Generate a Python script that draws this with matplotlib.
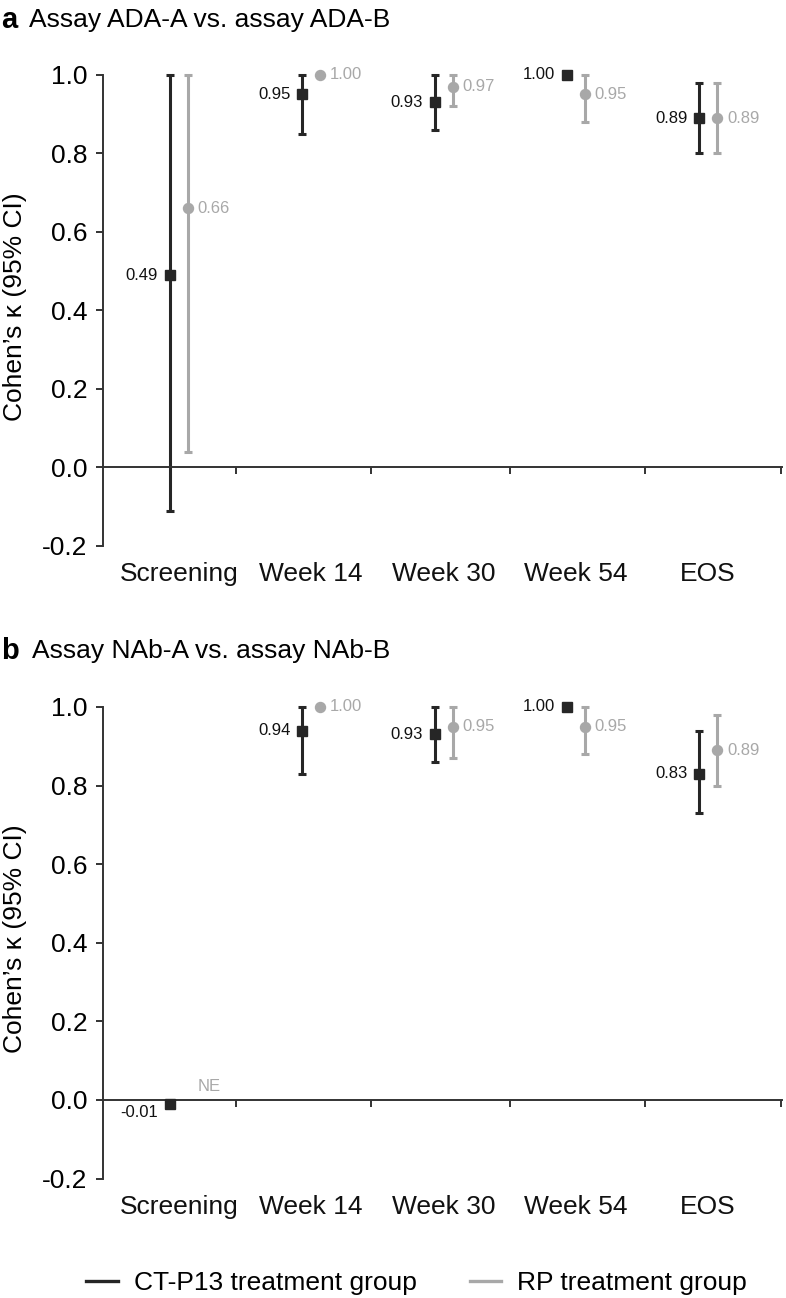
import numpy as np
import matplotlib.pyplot as plt
from matplotlib.lines import Line2D

plt.rcParams['font.family'] = ['Liberation Sans', 'DejaVu Sans']

# data
categories = ['Screening', 'Week 14', 'Week 30', 'Week 54', 'EOS']

ada_ct = [0.49, 0.95, 0.93, 1.00, 0.89]
ada_ct_lo = [-0.11, 0.85, 0.86, 1.00, 0.80]
ada_ct_hi = [1.00, 1.00, 1.00, 1.00, 0.98]
ada_rp = [0.66, 1.00, 0.97, 0.95, 0.89]
ada_rp_lo = [0.04, 1.00, 0.92, 0.88, 0.80]
ada_rp_hi = [1.00, 1.00, 1.00, 1.00, 0.98]

nab_ct = [-0.01, 0.94, 0.93, 1.00, 0.83]
nab_ct_lo = [-0.01, 0.83, 0.86, 1.00, 0.73]
nab_ct_hi = [-0.01, 1.00, 1.00, 1.00, 0.94]
nab_rp = [np.nan, 1.00, 0.95, 0.95, 0.89]   # screening not estimable
nab_rp_lo = [np.nan, 1.00, 0.87, 0.88, 0.80]
nab_rp_hi = [np.nan, 1.00, 1.00, 1.00, 0.98]

yticks = [-0.2, 0.0, 0.2, 0.4, 0.6, 0.8, 1.0]
bounds = [0.43, 1.45, 2.5, 3.52, 4.55]

dark = '#262626'
grey = '#a8a8a8'
fs = 19


def draw_group(ax, xs, val, lo, hi, color, marker, side):
    val = np.array(val, dtype=float)
    lo = np.array(lo, dtype=float)
    hi = np.array(hi, dtype=float)
    ok = ~np.isnan(val)
    wide = ok & (hi > lo)
    ax.errorbar(xs[wide], val[wide], yerr=[val[wide] - lo[wide], hi[wide] - val[wide]],
                fmt='none', ecolor=color, elinewidth=2.2, capsize=3.2, capthick=2.2, zorder=2)
    ax.plot(xs[ok], val[ok], linestyle='none', marker=marker, color=color,
            markersize=6.8 if marker == 's' else 7.2, zorder=3)
    for x, v in zip(xs[ok], val[ok]):
        if side == 'left':
            dy = -6.5 if v < 0.05 else 0
            ax.annotate(f'{v:.2f}', (x, v), xytext=(-8.5, dy), textcoords='offset points',
                        ha='right', va='center', fontsize=12, color='#111111')
        else:
            ax.annotate(f'{v:.2f}', (x, v), xytext=(7, 0), textcoords='offset points',
                        ha='left', va='center', fontsize=12, color=grey)
    for x in xs[~ok]:
        ax.annotate('NE', (x, 0), xytext=(7, 9.5), textcoords='offset points',
                    ha='left', va='center', fontsize=12, color=grey)


def style_axis(ax):
    x = np.arange(len(categories))
    ax.set_xlim(-0.574, 4.558)
    ax.set_ylim(-0.2, 1.02)
    for s in ['top', 'right']:
        ax.spines[s].set_visible(False)
    ax.spines['left'].set_bounds(-0.2, 1.0)
    ax.spines['bottom'].set_position(('data', 0))
    for s in ['left', 'bottom']:
        ax.spines[s].set_color('#333333')
        ax.spines[s].set_linewidth(1.4)
    ax.set_yticks(yticks)
    ax.set_yticklabels([f'{t:.1f}' for t in yticks])
    ax.set_xticks(bounds)
    ax.set_xticklabels([])
    ax.tick_params(axis='y', direction='out', length=5, width=1.4, color='#333333',
                   labelsize=fs, pad=6)
    ax.tick_params(axis='x', direction='out', length=5, width=1.4, color='#333333')
    for i, c in enumerate(categories):
        ax.text(x[i], -0.272, c, ha='center', va='center', fontsize=fs, color='#111111')
    ax.set_ylabel("Cohen\u2019s \u03ba (95% CI)", fontsize=fs)
    ax.yaxis.set_label_coords(-0.112, 0.5)


fig = plt.figure(figsize=(7.86, 12.98), dpi=100)
ax1 = fig.add_axes([0.131, 0.5794, 0.8639, 0.3690])
ax2 = fig.add_axes([0.131, 0.0920, 0.8639, 0.3694])

xpos = np.arange(len(categories))
d = 0.068

draw_group(ax1, xpos - d, ada_ct, ada_ct_lo, ada_ct_hi, dark, 's', 'left')
draw_group(ax1, xpos + d, ada_rp, ada_rp_lo, ada_rp_hi, grey, 'o', 'right')
draw_group(ax2, xpos - d, nab_ct, nab_ct_lo, nab_ct_hi, dark, 's', 'left')
draw_group(ax2, xpos + d, nab_rp, nab_rp_lo, nab_rp_hi, grey, 'o', 'right')

style_axis(ax1)
style_axis(ax2)

fig.text(0.002, 0.9846, 'a', fontsize=fs + 2, fontweight='bold', va='center', ha='left')
fig.text(0.037, 0.9846, 'Assay ADA-A vs. assay ADA-B', fontsize=fs, va='center', ha='left')
fig.text(0.002, 0.4985, 'b', fontsize=fs + 2, fontweight='bold', va='center', ha='left')
fig.text(0.041, 0.4985, 'Assay NAb-A vs. assay NAb-B', fontsize=fs, va='center', ha='left')

handles = [Line2D([], [], color=dark, lw=2.4), Line2D([], [], color=grey, lw=2.4)]
fig.legend(handles, ['CT-P13 treatment group', 'RP treatment group'], ncol=2,
           loc='center', bbox_to_anchor=(0.53, 0.0116), frameon=False, fontsize=fs,
           handlelength=1.2, handletextpad=0.6, columnspacing=2.0)

fig.savefig('out.png', dpi=100)
